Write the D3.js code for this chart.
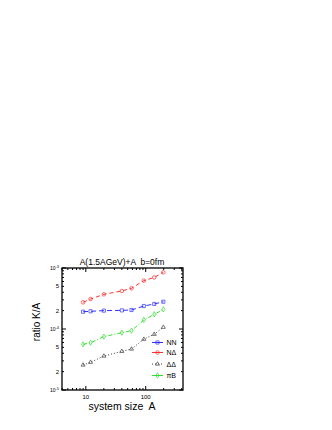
<!DOCTYPE html>
<html><head><meta charset="utf-8">
<script src="https://cdn.jsdelivr.net/npm/d3@7"></script>
<style>html,body{margin:0;padding:0;background:#fff;} svg{display:block;font-family:"Liberation Sans",Arial,sans-serif;} text{white-space:pre;}</style>
</head><body>
<svg id="c" width="332" height="430"></svg>
<script>
const systemSize = [9, 12, 20, 40, 58, 93, 139, 197];
const ratioNN = [1.92e-4, 1.95e-4, 2.0e-4, 2.02e-4, 2.05e-4, 2.38e-4, 2.57e-4, 2.8e-4];
const ratioND = [2.74e-4, 3.1e-4, 3.7e-4, 4.2e-4, 4.65e-4, 6.2e-4, 7.0e-4, 8.5e-4];
const ratioDD = [2.57e-5, 2.85e-5, 3.6e-5, 4.3e-5, 4.7e-5, 6.8e-5, 8.2e-5, 1.07e-4];
const ratioPB = [5.6e-5, 5.95e-5, 7.5e-5, 8.7e-5, 9.4e-5, 1.41e-4, 1.74e-4, 2.1e-4];
const seriesNames = ["NN", "NΔ", "ΔΔ", "πB"];
const yTickValues = [1e-5, 2e-5, 5e-5, 1e-4, 2e-4, 5e-4, 1e-3];
const xTickValues = [10, 100];
const titleText = "A(1.5AGeV)+A  b=0fm";
const xLabel = "system size  A";
const yLabel = "ratio K/A";

const svg = d3.select("#c");
const L = 62, R = 183, T = 268, B = 390;
const x = d3.scaleLog().domain([4, 420]).range([L, R]);
const y = d3.scaleLog().domain([1e-5, 1e-3]).range([B, T]);

const series = [
  {name: seriesNames[0], vals: ratioNN, color: "#3030ff", dash: "5,3", sym: d3.symbolSquare},
  {name: seriesNames[1], vals: ratioND, color: "#ff3030", dash: "4,3", sym: "oct"},
  {name: seriesNames[2], vals: ratioDD, color: "#444", dash: "1,2", sym: d3.symbolTriangle},
  {name: seriesNames[3], vals: ratioPB, color: "#30e030", dash: "4,2,1,2", sym: d3.symbolDiamond}
];

const xMinor = [];
[1, 10, 100].forEach(d => { for (let k = 1; k <= 9; k++) { const v = d * k; if (v >= 4 && v <= 420) xMinor.push(v); } });
const yMinor = [];
[1e-5, 1e-4].forEach(d => { for (let k = 1; k <= 9; k++) yMinor.push(d * k); });
yMinor.push(1e-3);

const ax = svg.append("g").attr("stroke", "#000").attr("stroke-width", 1);
xMinor.forEach(v => {
  const major = (v === 10 || v === 100);
  const len = major ? 4 : 2;
  ax.append("line").attr("x1", x(v)).attr("x2", x(v)).attr("y1", B).attr("y2", B - len);
  ax.append("line").attr("x1", x(v)).attr("x2", x(v)).attr("y1", T).attr("y2", T + len);
});
yMinor.forEach(v => {
  const lg = Math.log10(v);
  const major = Math.abs(lg - Math.round(lg)) < 1e-9;
  const len = major ? 4 : 2;
  ax.append("line").attr("x1", L).attr("x2", L + len).attr("y1", y(v)).attr("y2", y(v));
  ax.append("line").attr("x1", R).attr("x2", R - len).attr("y1", y(v)).attr("y2", y(v));
});
svg.append("rect").attr("x", L).attr("y", T).attr("width", R - L).attr("height", B - T)
  .attr("fill", "none").attr("stroke", "#000").attr("stroke-width", 1.3);

yTickValues.forEach(v => {
  const lg = Math.log10(v);
  const t = svg.append("text").attr("x", L - 3).attr("y", y(v) + 2).attr("text-anchor", "end")
    .attr("font-size", 6);
  if (Math.abs(lg - Math.round(lg)) < 1e-9) {
    t.append("tspan").text("10").attr("font-size", 5);
    t.append("tspan").text("-" + Math.abs(Math.round(lg))).attr("font-size", 4).attr("dy", -2);
  } else {
    t.text(Math.round(v / Math.pow(10, Math.floor(lg))));
  }
});
xTickValues.forEach(v => {
  svg.append("text").attr("x", x(v)).attr("y", B + 9).attr("text-anchor", "middle")
    .attr("font-size", 6).text(v);
});

svg.append("text").attr("x", 122).attr("y", 265).attr("text-anchor", "middle")
  .attr("font-size", 8.5).text(titleText);
svg.append("text").attr("x", 122).attr("y", 410).attr("text-anchor", "middle")
  .attr("font-size", 10.5).text(xLabel);
svg.append("text").attr("transform", "translate(40,322) rotate(-90)").attr("text-anchor", "middle")
  .attr("font-size", 10).text(yLabel);

function marker(g, sym, cx, cy, color) {
  if (sym === "oct") {
    g.append("circle").attr("cx", cx).attr("cy", cy).attr("r", 1.8)
      .attr("fill", "none").attr("stroke", color).attr("stroke-width", 0.7);
  } else {
    const size = sym === d3.symbolTriangle ? 7 : (sym === d3.symbolDiamond ? 8 : 10);
    g.append("path").attr("d", d3.symbol(sym, size)()).attr("transform", `translate(${cx},${cy})`)
      .attr("fill", "none").attr("stroke", color).attr("stroke-width", 0.7);
  }
}

const line = d3.line().x((d, i) => x(systemSize[i])).y(d => y(d));
series.forEach(s => {
  const g = svg.append("g");
  g.append("path").attr("d", line(s.vals)).attr("fill", "none").attr("stroke", s.color)
    .attr("stroke-width", 1).attr("stroke-dasharray", s.dash);
  s.vals.forEach((v, i) => marker(g, s.sym, x(systemSize[i]), y(v), s.color));
});

const legY = [342.5, 352.5, 364, 375.5];
series.forEach((s, i) => {
  const g = svg.append("g");
  g.append("line").attr("x1", 152).attr("x2", 163).attr("y1", legY[i]).attr("y2", legY[i])
    .attr("stroke", s.color).attr("stroke-width", 1).attr("stroke-dasharray", i === 2 ? "1,2" : null);
  marker(g, s.sym, 157.5, legY[i], s.color);
  g.append("text").attr("x", 166.5).attr("y", legY[i] + 2.5).attr("font-size", 7).attr("fill", "#000").text(s.name);
});
</script>
</body></html>
